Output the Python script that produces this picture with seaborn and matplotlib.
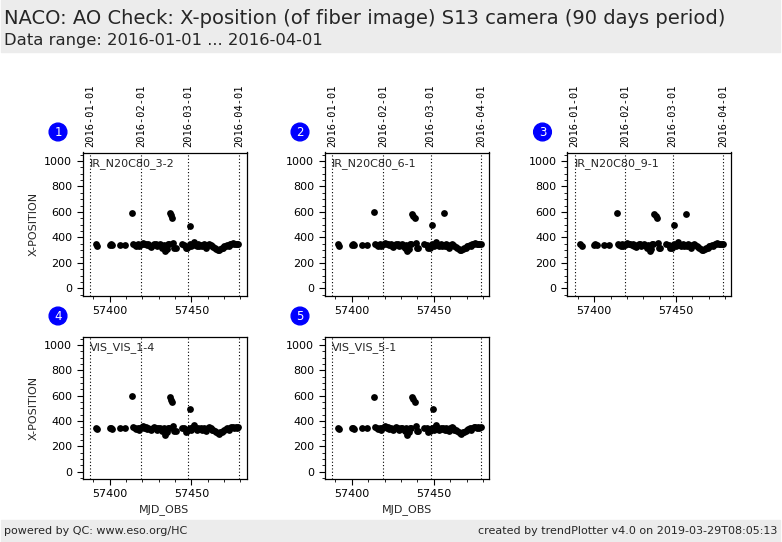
"""
NACO AO check trend plot: X-position of fiber image, S13 camera.
"""

import matplotlib
matplotlib.use("Agg")
import matplotlib.pyplot as plt
import matplotlib.patches as mpatches
from matplotlib.ticker import AutoMinorLocator
import seaborn as sns
import pandas as pd

# data
panel_labels = ["IR_N20C80_3-2", "IR_N20C80_6-1", "IR_N20C80_9-1",
                "VIS_VIS_1-4", "VIS_VIS_5-1"]

mjd_base = [57391.4, 57392.3, 57399.9, 57400.7, 57401.5, 57406.0, 57409.3,
            57414.4, 57415.2, 57416.1, 57417.0, 57417.8, 57418.6, 57419.5,
            57420.3, 57421.2, 57422.0, 57422.9, 57423.7, 57424.6, 57425.4,
            57426.3, 57427.1, 57428.0, 57428.8, 57429.7, 57430.5, 57431.4,
            57432.2, 57433.1, 57433.9, 57434.8, 57435.6, 57436.2, 57438.9,
            57439.5, 57440.3, 57444.2, 57445.6, 57446.5, 57447.4, 57448.2,
            57449.0, 57449.9, 57450.7, 57451.5, 57452.4, 57453.2, 57454.1,
            57454.9, 57455.8, 57456.6, 57457.5, 57458.3, 57459.2, 57460.0,
            57460.9, 57461.7, 57462.6, 57463.4, 57464.3, 57465.1, 57466.0,
            57466.8, 57467.7, 57468.5, 57469.4, 57470.2, 57471.1, 57471.9,
            57472.8, 57473.6, 57474.5, 57475.3, 57476.2, 57477.0, 57477.9,
            57478.7]
xpos_base = [345, 335, 342, 345, 338, 343, 340,
             350, 340, 335, 345, 330, 340, 350,
             360, 345, 350, 338, 345, 335, 325,
             340, 350, 345, 330, 340, 345, 335,
             320, 340, 290, 310, 345, 345, 360,
             320, 318, 345, 340, 315, 320, 335,
             345, 330, 350, 365, 340, 330, 345,
             335, 340, 330, 345, 330, 320, 340,
             350, 340, 330, 325, 320, 310, 305,
             300, 310, 315, 320, 330, 335, 340,
             330, 345, 350, 355, 345, 350, 345,
             350]

# outliers per panel (mjd, x-position)
outlier_mjd = [
    [57413.8, 57436.8, 57437.5, 57438.3, 57449.3],
    [57413.8, 57436.8, 57437.5, 57438.3, 57449.0, 57456.0],
    [57413.8, 57436.8, 57437.5, 57438.3, 57449.0, 57456.0],
    [57413.8, 57436.8, 57437.5, 57438.3, 57449.3],
    [57413.8, 57436.8, 57437.5, 57438.3, 57449.3],
]
outlier_val = [
    [595, 595, 575, 550, 490],
    [598, 585, 570, 555, 500, 592],
    [595, 585, 570, 555, 495, 585],
    [598, 585, 565, 550, 495],
    [590, 590, 570, 550, 495],
]

date_ticks = [57388, 57419, 57448, 57479]
date_labels = ["2016-01-01", "2016-02-01", "2016-03-01", "2016-04-01"]

sns.set_style("ticks")
plt.rcParams['font.family'] = ['DejaVu Sans']
plt.rcParams['axes.edgecolor'] = 'black'
plt.rcParams['xtick.color'] = 'black'
plt.rcParams['ytick.color'] = 'black'

W, H = 782, 542
fig = plt.figure(figsize=(W / 100, H / 100), dpi=100)

# header / footer bands
fig.patches.append(mpatches.Rectangle((1 / W, 1 - 52 / H), 779 / W, 52 / H,
                                      transform=fig.transFigure,
                                      color='#ececec', zorder=0))
fig.patches.append(mpatches.Rectangle((1 / W, 0), 779 / W, 22 / H,
                                      transform=fig.transFigure,
                                      color='#ececec', zorder=0))
fig.text(4 / W, 1 - 18 / H,
         "NACO: AO Check: X-position (of fiber image) S13 camera (90 days period)",
         fontsize=14, va='center', ha='left')
fig.text(4 / W, 1 - 41 / H, "Data range: 2016-01-01 ... 2016-04-01",
         fontsize=11.8, va='center', ha='left')
fig.text(4 / W, 11 / H, "powered by QC: www.eso.org/HC",
         fontsize=8, va='center', ha='left')
fig.text(777 / W, 11 / H,
         "created by trendPlotter v4.0 on 2019-03-29T08:05:13",
         fontsize=8, va='center', ha='right')

# panel boxes in pixels: left, top, right, bottom
boxes = [(82.5, 152.5, 246.5, 295.5),
         (324.5, 152.5, 489, 295.5),
         (567, 152.5, 731, 295.5),
         (82.5, 336.5, 246.5, 478.5),
         (324.5, 336.5, 489, 478.5)]

for i, (l, t, r, b) in enumerate(boxes):
    ax = fig.add_axes([l / W, 1 - b / H, (r - l) / W, (b - t) / H])
    df = pd.DataFrame({
        'MJD_OBS': mjd_base + outlier_mjd[i],
        'X-POSITION': xpos_base + outlier_val[i],
    })
    sns.scatterplot(data=df, x='MJD_OBS', y='X-POSITION', ax=ax,
                    color='black', s=24, linewidth=0, zorder=3)
    for d in date_ticks:
        ax.axvline(d, color='black', lw=0.8, ls=(0, (1, 2)), zorder=1)
    ax.set_xlim(57383.3, 57483.7)
    ax.set_ylim(-55, 1066)
    ax.set_xticks([57400, 57450])
    ax.set_yticks([0, 200, 400, 600, 800, 1000])
    ax.xaxis.set_minor_locator(AutoMinorLocator(5))
    ax.yaxis.set_minor_locator(AutoMinorLocator(4))
    ax.tick_params(axis='both', which='major', labelsize=8, length=4,
                   width=0.8, direction='out')
    ax.tick_params(axis='both', which='minor', length=2, width=0.6,
                   direction='out')
    for sp in ax.spines.values():
        sp.set_linewidth(0.9)
        sp.set_visible(True)

    ax.set_ylabel('X-POSITION' if i in (0, 3) else '', fontsize=8)
    ax.set_xlabel('MJD_OBS' if i in (3, 4) else '', fontsize=8)

    ax.text(0.046, 0.92, panel_labels[i], transform=ax.transAxes,
            fontsize=8, va='center', ha='left')

    if i < 3:
        top = ax.secondary_xaxis('top')
        top.set_xticks(date_ticks)
        top.set_xticklabels(date_labels, rotation=90,
                            family='DejaVu Sans Mono', fontsize=7.5)
        top.tick_params(length=0, pad=4)
        for sp in top.spines.values():
            sp.set_visible(False)

    # panel number badge
    fig.text((l - 24.5) / W, 1 - (t - 20.5) / H, str(i + 1),
             color='white', fontsize=8.5, ha='center', va='center',
             bbox=dict(boxstyle='circle,pad=0.2', fc='#0000ff', ec='#0000ff'))

fig.savefig('out.png', dpi=100)
